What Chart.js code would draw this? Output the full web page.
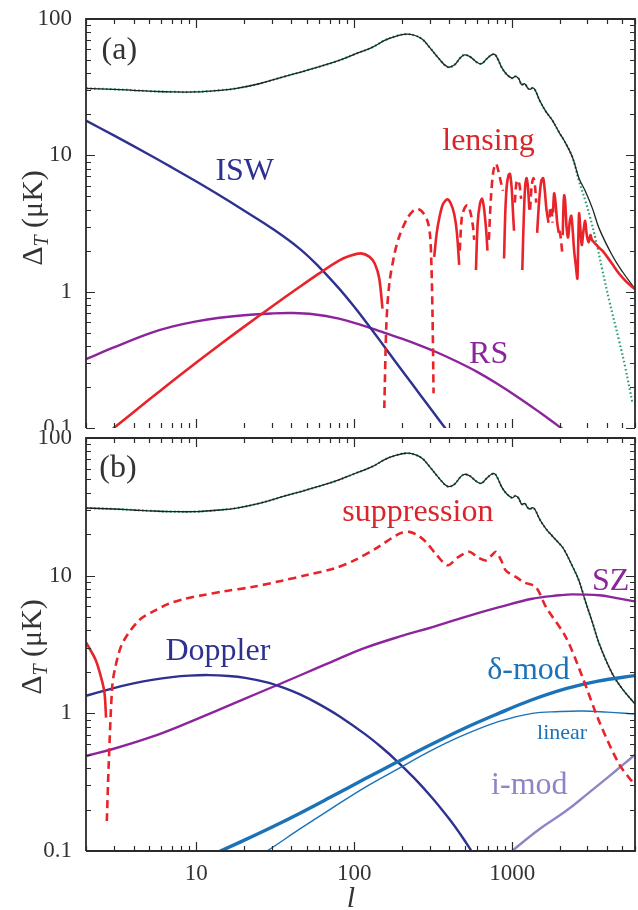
<!DOCTYPE html>
<html>
<head>
<meta charset="utf-8">
<script src="https://cdn.jsdelivr.net/npm/chart.js@4.4.1/dist/chart.umd.min.js"></script>
<style>
  html, body { margin: 0; padding: 0; background: #fff; }
  #wrap { position: relative; width: 638px; height: 910px; overflow: hidden; background: #fff; }
  #panelA { position: absolute; left: 0; top: 0; }
  #panelB { position: absolute; left: 0; top: 430px; background: #fff; }
</style>
</head>
<body>
<div id="wrap">
  <canvas id="panelA" width="638" height="430"></canvas>
  <canvas id="panelB" width="638" height="480"></canvas>
</div>
<script>
// ---------------- axes ----------------
const xTickLabels = [10, 100, 1000];
const yTickLabels = [0.1, 1, 10, 100];

// ---------------- total anisotropy (both panels) ----------------
const totalL = [2,3,4,5,7,10,14,18,25,36,50,76,100,130,157,185,212,240,270,300,340,390,430,470,500,540,600,640,690,740,775,810,860,920,1000,1050,1100,1150,1200,1260,1300,1350,1400,1500,1634,1790,2000,2130,2400,2650,2900,3220,3560,4300,5000,6000];
const totalA = [31,30.5,30,29.6,29.2,29.2,30,31,33.5,37.8,42,48.6,55,62,70,75,77.5,76,71,62,52,44.5,46,52,54.5,53,48,47,51,54.5,55,51,44,39.5,36.8,38,36.5,33,33.5,31,30.5,31.2,30,25,21,18.2,14.5,12.9,9.8,6.8,5.5,4.1,2.9,1.85,1.4,1.05];
const totalB = [31,30.5,30,29.6,29.2,29.2,30,31,33.5,37.8,42,48.6,55,62,70,75,77.5,76,71,62,52,44.5,46,52,54.5,53,48,47,51,54.5,55,51,44,39.5,36.8,38,36.5,33,33.5,31,30.5,31.2,30,25.5,22,19.5,17,15.5,11.8,9.2,6.6,4.6,3.2,1.95,1.5,1.17];

// unlensed comparison spectrum, panel (a)
const unlensedL = [2,3,4,5,7,10,14,18,25,36,50,76,100,130,157,185,212,240,270,300,340,390,430,470,500,540,600,640,690,740,775,810,860,920,1000,1050,1100,1150,1200,1260,1300,1350,1400,1500,1634,1790,2000,2130,2400,2650,2900,3100,3390,3700,4110,4750,5200,5800];
const unlensedV = [31,30.5,30,29.6,29.2,29.2,30,31,33.5,37.8,42,48.6,55,62,70,75,77.5,76,71,62,52,44.5,46,52,54.5,53,48,47,51,54.5,55,51,44,39.5,36.8,38,36.5,33,33.5,31,30.5,31.2,30,25,21,18.2,14.5,12.9,9.8,6.5,4.7,3.6,2.39,1.5,0.87,0.44,0.28,0.15];

// ---------------- panel (a) components ----------------
const iswL = [2,3,5,7,10,14,20,30,45,60,80,100,124,150,180,212,260,310,362,450];
const iswV = [18,14.0,10.15,8.15,6.42,5.09,3.94,2.92,2.07,1.515,1.057,0.774,0.56,0.417,0.313,0.243,0.177,0.135,0.106,0.0766];

const rsL = [2,3,5,7,10,14,20,30,40,55,80,110,150,200,260,330,450,600,800,1100,1500,1930,2500,3000];
const rsV = [0.32,0.39,0.493,0.554,0.606,0.644,0.672,0.692,0.697,0.683,0.634,0.571,0.507,0.452,0.404,0.361,0.306,0.258,0.212,0.167,0.13,0.105,0.084,0.071];

// lensing correction, signed (negative part drawn dashed)
const lensL = [2,3,5,7,10,14,20,30,45,60,80,95,110,125,135,144,151,
  155,160,167,180,193,215,235,252,270,291,302,308,313,318,
  321,333,348,365,389,410,430,447,462,
  466,480,500,521,545,565,575,
  590,605,625,645,665,685,698,
  712,735,760,790,820,850,875,
  889,905,925,950,970,995,1015,1028,
  1040,1065,1090,1115,1140,
  1160,1185,1210,1235,1260,1285,
  1300,1330,1365,1395,1420,
  1440,1480,1530,1572,1610,1650,1700,
  1720,1750,1780,1800,
  1815,1845,1880,1930,1975,
  1995,2030,2080,
  2090,2120,2140,2170,2210,2260,2320,2370,2420,2470,2540,2590,2620,2655,2700,2760,2830,2900,2970,3050,3130,3200,3300,3420,3550,3730,4000,4300,4750,5300,6000];
const lensV = [0.0686,0.1,0.161,0.219,0.302,0.406,0.552,0.776,1.082,1.362,1.69,1.84,1.91,1.8,1.6,1.25,0.75,
  -0.14,-0.6,-1.16,-1.9,-2.55,-3.4,-3.9,-4.05,-3.85,-3.3,-2.6,-1.6,-0.7,-0.18,
  1.8,2.7,3.6,4.4,4.75,4.4,3.7,2.7,1.57,
  -2.0,-3.5,-4.1,-4.3,-3.8,-3.0,-2.4,
  1.44,3.2,4.4,4.8,4.0,2.8,2.0,
  -2.4,-5.0,-7.6,-8.7,-7.6,-6.3,-5.5,
  1.75,3.8,6.0,7.2,7.3,5.6,3.6,2.8,
  -4.5,-6.3,-6.6,-6.0,-4.8,
  1.44,3.5,6.0,6.8,5.8,4.0,
  -4.0,-6.0,-6.8,-6.0,-4.5,
  2.7,4.5,6.5,6.8,5.5,4.0,3.2,
  -3.5,-4.2,-4.0,-3.2,
  3.8,5.26,4.6,3.2,2.7,
  -2.8,-2.5,-1.9,
  2.6,4.6,5.1,4.5,3.0,2.5,3.3,3.6,2.8,2.0,1.5,1.25,2.2,3.75,3.0,2.2,2.8,3.3,2.6,2.3,2.6,2.4,2.3,2.2,2.1,2.0,1.8,1.6,1.36,1.18,1.04];

// ---------------- panel (b) components ----------------
// suppression, signed (negative part drawn dashed)
const supL = [2,2.3,2.5,2.62,2.68,2.71,2.79,2.93,3.05,3.39,4.32,5.5,6.68,8.5,10.9,15,22.5,35,50,75,100,140,193,223,255,284,330,390,450,534,610,682,740,789,850,912,1055,1200,1413,1640,2190,2790,3550,4750,6000];
const supV = [3.28,2.45,1.8,1.4,0.93,-0.165,-0.45,-1.55,-2.1,-3.2,-4.72,-5.6,-6.25,-6.8,-7.2,-7.7,-8.27,-9.2,-10.1,-11.3,-12.9,-16,-20.2,-20.8,-19.5,-17.6,-14.3,-11.9,-13.5,-14.9,-13.5,-12.9,-14,-14.9,-13,-10.9,-9.8,-8.9,-8.27,-5.9,-3.57,-1.83,-0.88,-0.43,-0.3];

const dopplerL = [2,3,4,5.25,7,9,12,16,20.4,28,36.6,45,59.4,80,117,150,184,240,313,400,470,534,600];
const dopplerV = [1.34,1.526,1.649,1.751,1.834,1.88,1.896,1.869,1.811,1.679,1.52,1.377,1.172,0.957,0.706,0.562,0.456,0.338,0.2416,0.1706,0.1323,0.1062,0.0856];

const szL = [2,3,5.25,8,12.6,20,33.2,50,80,117,200,313,500,828,1340,2000,2410,3550,4500,6000];
const szV = [0.49,0.553,0.677,0.815,1.013,1.27,1.62,1.98,2.5,2.99,3.65,4.23,5.0,5.9,6.8,7.2,7.31,7.2,6.9,6.5];

const dmodL = [10,14.2,20,30,45,70,117,184,300,500,828,1300,2190,3500,6000];
const dmodV = [0.0839,0.1,0.1195,0.1488,0.1875,0.2443,0.3342,0.4386,0.5854,0.779,1.003,1.24,1.511,1.716,1.88];

const linearL = [20,28,45,70,117,193,300,500,828,1340,2000,2790,4000,6000];
const linearV = [0.08,0.1,0.144,0.2,0.29,0.40,0.53,0.70,0.875,1.0,1.03,1.04,1.02,0.99];

const imodL = [800,1000,1500,2190,3000,4000,5000,6000];
const imodV = [0.08,0.1,0.145,0.195,0.26,0.34,0.42,0.5];

// ---------------- styling ----------------
const FONT = '"Liberation Serif", "DejaVu Serif", serif';
const RED = '#e8232a', NAVY = '#2e3190', PURPLE = '#8c259c', TOTAL = '#1c2620',
      GREEN = '#2e9e72', BLUE = '#1a72b8', LAVENDER = '#8d86c6', INK = '#333333';

function isDecade(v) { const e = Math.log10(v); return Math.abs(e - Math.round(e)) < 1e-9; }

// 1..9 x 10^k tick positions inside [lo, hi]
function logTicks(lo, hi) {
  const out = [];
  for (let e = Math.floor(Math.log10(lo)); e <= Math.ceil(Math.log10(hi)); e++) {
    for (let m = 1; m < 10; m++) {
      const v = +(m * Math.pow(10, e)).toPrecision(6);
      if (v >= lo * (1 - 1e-9) && v <= hi * (1 + 1e-9)) out.push({ value: v });
    }
  }
  return out;
}

function curve(L, V, style) {
  return Object.assign({
    data: L.map((l, i) => ({ x: l, y: V[i] })),
    pointRadius: 0, borderWidth: 2.4, fill: false,
    tension: 0.4, spanGaps: false
  }, style);
}

// signed series -> solid (positive) and dashed (negative) magnitude curves
function signedCurves(L, V, color, width) {
  const pos = curve(L, V.map(v => v > 0 ? v : null), { borderColor: color, borderWidth: width, tension: 0.3 });
  const neg = curve(L, V.map(v => v < 0 ? -v : null), { borderColor: color, borderWidth: width, tension: 0.3, borderDash: [8, 5] });
  return [neg, pos];
}

// frame, inward ticks, axis titles and curve labels
function decorations(deco) {
  return {
    id: 'decorations',
    afterDatasetsDraw(chart) {
      const { ctx, chartArea: a, scales: { x, y } } = chart;
      ctx.save();
      ctx.strokeStyle = '#2a2a2a';
      ctx.lineWidth = 1.2;
      ctx.beginPath();
      x.ticks.forEach(t => {
        const px = Math.round(x.getPixelForValue(t.value)) + 0.5;
        const len = isDecade(t.value) ? 9 : 5;
        ctx.moveTo(px, a.bottom); ctx.lineTo(px, a.bottom - len);
        ctx.moveTo(px, a.top); ctx.lineTo(px, a.top + len);
      });
      y.ticks.forEach(t => {
        const py = Math.round(y.getPixelForValue(t.value)) + 0.5;
        const len = isDecade(t.value) ? 9 : 5;
        ctx.moveTo(a.left, py); ctx.lineTo(a.left + len, py);
        ctx.moveTo(a.right, py); ctx.lineTo(a.right - len, py);
      });
      ctx.stroke();

      ctx.lineWidth = 1.8;
      ctx.beginPath();
      ctx.moveTo(a.left, a.bottom);
      ctx.lineTo(a.left, a.top);
      ctx.lineTo(a.right, a.top);
      ctx.lineTo(a.right, a.bottom);
      if (deco.bottomEdge) ctx.lineTo(a.left, a.bottom);
      ctx.stroke();

      // y-axis title: Delta with italic subscript T
      ctx.fillStyle = INK;
      ctx.textBaseline = 'alphabetic';
      ctx.textAlign = 'left';
      ctx.save();
      ctx.translate(deco.yTitleX, deco.yTitleY);
      ctx.rotate(-Math.PI / 2);
      ctx.font = '30px ' + FONT;
      const wD = ctx.measureText('\u0394').width;
      const wR = ctx.measureText(' (\u03bcK)').width;
      ctx.font = 'italic 20px ' + FONT;
      const wT = ctx.measureText('T').width;
      let sx = -(wD + wT + wR) / 2;
      ctx.font = '30px ' + FONT;
      ctx.fillText('\u0394', sx, 0);
      ctx.font = 'italic 20px ' + FONT;
      ctx.fillText('T', sx + wD, 6);
      ctx.font = '30px ' + FONT;
      ctx.fillText(' (\u03bcK)', sx + wD + wT, 0);
      ctx.restore();

      if (deco.xTitle) {
        ctx.font = 'italic 30px ' + FONT;
        ctx.textAlign = 'center';
        ctx.fillText(deco.xTitle, deco.xTitleX, deco.xTitleY);
        ctx.textAlign = 'left';
      }

      deco.labels.forEach(lb => {
        ctx.font = lb.size + 'px ' + FONT;
        ctx.fillStyle = lb.color;
        ctx.fillText(lb.text, x.getPixelForValue(lb.l), y.getPixelForValue(lb.v));
      });
      ctx.restore();
    }
  };
}

function panel(canvas, datasets, cfg) {
  return new Chart(canvas, {
    type: 'line',
    data: { datasets },
    options: {
      responsive: false,
      animation: false,
      events: [],
      layout: { padding: cfg.padding },
      plugins: { legend: { display: false }, tooltip: { enabled: false } },
      scales: {
        x: {
          type: 'logarithmic', position: 'bottom', min: 2, max: 6000,
          grid: { display: false, drawTicks: false }, border: { display: false },
          ticks: {
            display: cfg.showX, autoSkip: false, maxRotation: 0, padding: 9,
            color: INK, font: { family: FONT, size: 23 },
            callback: v => xTickLabels.includes(v) ? String(v) : ''
          },
          afterBuildTicks: s => { s.ticks = logTicks(2, 6000); },
          afterFit: s => { s.height = cfg.xHeight; s.paddingLeft = 0; s.paddingRight = 0; }
        },
        y: {
          type: 'logarithmic', position: 'left', min: 0.1, max: 100,
          grid: { display: false, drawTicks: false }, border: { display: false },
          ticks: {
            autoSkip: false, padding: 14, color: INK, font: { family: FONT, size: 23 },
            callback: v => yTickLabels.includes(v) ? String(v) : ''
          },
          afterBuildTicks: s => { s.ticks = logTicks(0.1, 100); },
          afterFit: s => { s.width = 86; s.paddingTop = 0; s.paddingBottom = 0; }
        }
      }
    },
    plugins: [decorations(cfg.deco)]
  });
}

// ---------------- panel (a) ----------------
panel(document.getElementById('panelA'), [
  ...signedCurves(lensL, lensV, RED, 2.6),
  curve(iswL, iswV, { borderColor: NAVY, borderWidth: 2.4 }),
  curve(rsL, rsV, { borderColor: PURPLE, borderWidth: 2.4 }),
  curve(totalL, totalA, { borderColor: TOTAL, borderWidth: 1.3 }),
  curve(unlensedL, unlensedV, { borderColor: GREEN, borderWidth: 2.2, borderDash: [1.6, 2.4] })
], {
  padding: { top: 19, right: 3, bottom: 2, left: 0 },
  xHeight: 0, showX: false,
  deco: {
    bottomEdge: false, yTitleX: 42, yTitleY: 218,
    labels: [
      { text: '(a)', l: 2.51, v: 50.9, color: INK, size: 32 },
      { text: 'ISW', l: 13.2, v: 6.59, color: NAVY, size: 32 },
      { text: 'lensing', l: 361, v: 10.9, color: '#d9262c', size: 32 },
      { text: 'RS', l: 534, v: 0.299, color: PURPLE, size: 32 }
    ]
  }
});

// ---------------- panel (b) ----------------
panel(document.getElementById('panelB'), [
  ...signedCurves(supL, supV, RED, 2.6),
  curve(dmodL, dmodV, { borderColor: BLUE, borderWidth: 3.4 }),
  curve(linearL, linearV, { borderColor: BLUE, borderWidth: 1.4 }),
  curve(imodL, imodV, { borderColor: LAVENDER, borderWidth: 2.4 }),
  curve(dopplerL, dopplerV, { borderColor: NAVY, borderWidth: 2.4 }),
  curve(szL, szV, { borderColor: PURPLE, borderWidth: 2.4 }),
  curve(totalL, totalB, { borderColor: TOTAL, borderWidth: 1.3 }),
  curve(totalL, totalB, { borderColor: GREEN, borderWidth: 2.2, borderDash: [1.6, 2.4] })
], {
  padding: { top: 8, right: 3, bottom: 0, left: 0 },
  xHeight: 59, showX: true,
  deco: {
    bottomEdge: true, yTitleX: 41, yTitleY: 217,
    xTitle: 'l', xTitleX: 351, xTitleY: 477,
    labels: [
      { text: '(b)', l: 2.43, v: 52, color: INK, size: 32 },
      { text: 'suppression', l: 84, v: 24.9, color: '#d9262c', size: 32 },
      { text: 'Doppler', l: 6.37, v: 2.42, color: NAVY, size: 32 },
      { text: 'SZ', l: 3206, v: 7.81, color: PURPLE, size: 32 },
      { text: '\u03b4-mod', l: 695, v: 1.79, color: BLUE, size: 32 },
      { text: 'linear', l: 1439, v: 0.653, color: BLUE, size: 22 },
      { text: 'i-mod', l: 736, v: 0.26, color: LAVENDER, size: 32 }
    ]
  }
});
</script>
</body>
</html>
